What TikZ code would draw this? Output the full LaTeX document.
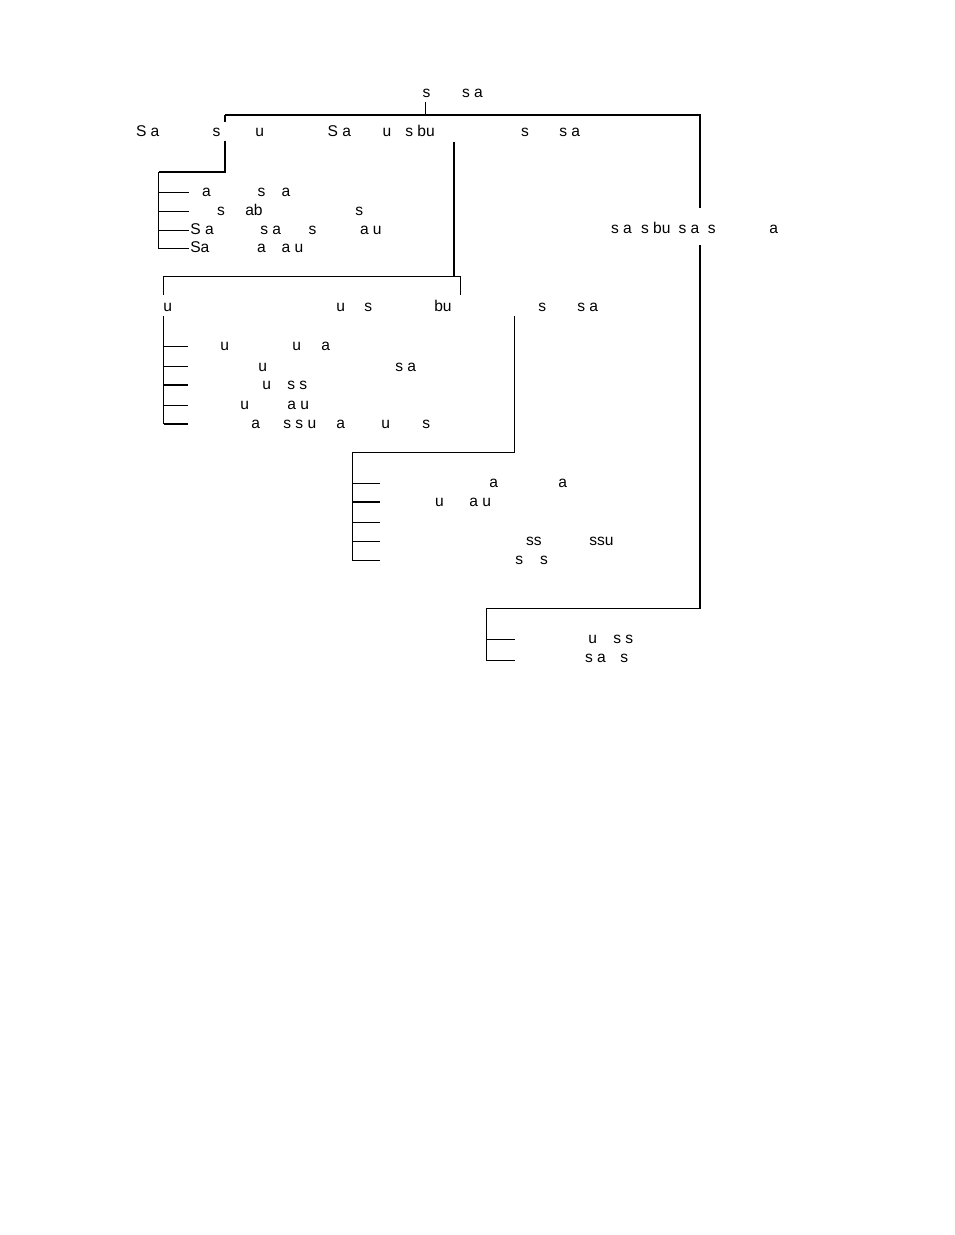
\documentclass[tikz,border=0pt]{standalone}
\usepackage{fontspec}
\setmainfont{Liberation Sans}
\begin{document}
\begin{tikzpicture}[x=0.6417pt,y=-0.6417pt,
  lbl/.style={anchor=base west,inner sep=0pt,outer sep=0pt,font=\fontsize{10pt}{12pt}\selectfont,xshift=-0.45pt},
  tl/.style={line width=0.6417pt},
  tk/.style={line width=1.2834pt}]
\useasboundingbox (0,0) rectangle (954,1235);
% ---------- connector points ----------
\coordinate (tickA) at (425.5,102);
\coordinate (tickB) at (425.5,115);
\coordinate (barL) at (225,115);
\coordinate (barR) at (700,115);
\coordinate (rA) at (700,208);
\coordinate (rB) at (700,245);
\coordinate (rC) at (700,608.5);
\coordinate (g4T) at (486.5,608.5);
\coordinate (g4B) at (486.5,660.5);
\coordinate (g4b1) at (486.5,639.5);
\coordinate (g4e1) at (515,639.5);
\coordinate (g4e2) at (515,660.5);
\coordinate (lA) at (225,121.5);
\coordinate (lB) at (225,140.5);
\coordinate (lC) at (225,172);
\coordinate (g1T) at (158.5,172);
\coordinate (g1B) at (158.5,248.5);
\coordinate (g1b1) at (158.5,192.5);
\coordinate (g1b2) at (158.5,211.5);
\coordinate (g1b3) at (158.5,230.5);
\coordinate (g1e1) at (188.5,192.5);
\coordinate (g1e2) at (188.5,211.5);
\coordinate (g1e3) at (188.5,230.5);
\coordinate (g1e4) at (188.5,248.5);
\coordinate (mA) at (454,141.7);
\coordinate (mB) at (454,276.5);
\coordinate (g2L) at (163.5,276.5);
\coordinate (g2R) at (460.5,276.5);
\coordinate (g2Ld) at (163.5,295);
\coordinate (g2Rd) at (460.5,295);
\coordinate (g2T) at (163.5,316);
\coordinate (g2B) at (163.5,424);
\coordinate (g2b1) at (163.5,346.5);
\coordinate (g2b2) at (163.5,366.5);
\coordinate (g2b3) at (163.5,385);
\coordinate (g2b4) at (163.5,405.5);
\coordinate (g2e1) at (188,346.5);
\coordinate (g2e2) at (188,366.5);
\coordinate (g2e3) at (188,385);
\coordinate (g2e4) at (188,405.5);
\coordinate (g2e5) at (188,424);
\coordinate (nA) at (514.5,316);
\coordinate (nB) at (514.5,452.5);
\coordinate (g3T) at (352.5,452.5);
\coordinate (g3B) at (352.5,560.5);
\coordinate (g3b1) at (352.5,483.5);
\coordinate (g3b2) at (352.5,502);
\coordinate (g3b3) at (352.5,522.5);
\coordinate (g3b4) at (352.5,541.5);
\coordinate (g3e1) at (380,483.5);
\coordinate (g3e2) at (380,502);
\coordinate (g3e3) at (380,522.5);
\coordinate (g3e4) at (380,541.5);
\coordinate (g3e5) at (380,560.5);
% ---------- connectors ----------
\draw[tl] (tickA) -- (tickB);
\draw[tk] (barL) -- (barR) -- (rA);
\draw[tk] (rB) -- (rC);
\draw[tl] (rC) -- (g4T) -- (g4B) -- (g4e2);
\draw[tl] (g4b1) -- (g4e1);
\draw[tk] (barL) -- (lA);
\draw[tk] (lB) -- (lC) -- (g1T);
\draw[tl] (g1T) -- (g1B) -- (g1e4);
\draw[tl] (g1b1) -- (g1e1);
\draw[tl] (g1b2) -- (g1e2);
\draw[tl] (g1b3) -- (g1e3);
\draw[tk] (mA) -- (mB);
\draw[tl] (g2Ld) -- (g2L) -- (g2R) -- (g2Rd);
\draw[tl] (g2T) -- (g2B);
\draw[tl] (g2b1) -- (g2e1);
\draw[tl] (g2b2) -- (g2e2);
\draw[tk] (g2b3) -- (g2e3);
\draw[tl] (g2b4) -- (g2e4);
\draw[tk] (g2B) -- (g2e5);
\draw[tl] (nA) -- (nB) -- (g3T) -- (g3B) -- (g3e5);
\draw[tl] (g3b1) -- (g3e1);
\draw[tk] (g3b2) -- (g3e2);
\draw[tl] (g3b3) -- (g3e3);
\draw[tl] (g3b4) -- (g3e4);
% ---------- texts ----------
% top
\node[lbl] (t1) at (423.3,97.5) {s};
\node[lbl] (t2) at (462.7,97.5) {s a};
% header row
\node[lbl] (h1) at (136.7,136.5) {S a};
\node[lbl] (h2) at (213.3,136.5) {s};
\node[lbl] (h3) at (256,136.5) {u};
\node[lbl] (h4) at (328.3,136.5) {S a};
\node[lbl] (h5) at (383.3,136.5) {u};
\node[lbl] (h6) at (406,136.5) {s bu};
\node[lbl] (h7) at (521.7,136.5) {s};
\node[lbl] (h8) at (560,136.5) {s a};
% group 1
\node[lbl] (a1) at (202.7,196) {a};
\node[lbl] (a2) at (258.3,196) {s};
\node[lbl] (a3) at (282.3,196) {a};
\node[lbl] (b1) at (217.7,215) {s};
\node[lbl] (b2) at (246,215) {ab};
\node[lbl] (b3) at (356,215) {s};
\node[lbl] (c1) at (191,234.5) {S a};
\node[lbl] (c2) at (261,234.5) {s a};
\node[lbl] (c3) at (309.3,234.5) {s};
\node[lbl] (c4) at (360.7,234.5) {a u};
\node[lbl] (d1) at (191,252.5) {Sa};
\node[lbl] (d2) at (257.7,252.5) {a};
\node[lbl] (d3) at (282.3,252.5) {a u};
% right row
\node[lbl] (r1) at (611.7,233) {s a};
\node[lbl] (r2) at (641.7,233) {s bu};
\node[lbl] (r3) at (679.3,233) {s a};
\node[lbl] (r3b) at (708.5,233) {s};
\node[lbl] (r4) at (770,233) {a};
% group 2 header
\node[lbl] (k1) at (164,311.5) {u};
\node[lbl] (k2) at (337,311.5) {u};
\node[lbl] (k3) at (365,311.5) {s};
\node[lbl] (k4) at (435,311.5) {bu};
\node[lbl] (k5) at (539,311.5) {s};
\node[lbl] (k6) at (578,311.5) {s a};
% group 2 rows
\node[lbl] (e1) at (221,350.5) {u};
\node[lbl] (e2) at (293,350.5) {u};
\node[lbl] (e3) at (322,350.5) {a};
\node[lbl] (f1) at (259,371) {u};
\node[lbl] (f2) at (396,371) {s a};
\node[lbl] (g1) at (263,389) {u};
\node[lbl] (g2) at (288,389) {s s};
\node[lbl] (i1) at (241,409.5) {u};
\node[lbl] (i2) at (288,409.5) {a u};
\node[lbl] (j1) at (252,428) {a};
\node[lbl] (j2) at (284,428) {s s u};
\node[lbl] (j3) at (337,428) {a};
\node[lbl] (j4) at (382,428) {u};
\node[lbl] (j5) at (423,428) {s};
% group 3 rows
\node[lbl] (m1) at (490,487) {a};
\node[lbl] (m2) at (559,487) {a};
\node[lbl] (o1) at (435.7,506.5) {u};
\node[lbl] (o2) at (470,506.5) {a u};
\node[lbl] (p1) at (526.7,545) {ss};
\node[lbl] (p2) at (590,545) {ssu};
\node[lbl] (q1) at (516,564.5) {s};
\node[lbl] (q2) at (540.7,564.5) {s};
% group 4 rows
\node[lbl] (v1) at (589,643) {u};
\node[lbl] (v2) at (614,643) {s s};
\node[lbl] (w1) at (585.7,662) {s a};
\node[lbl] (w2) at (621,662) {s};
\end{tikzpicture}
\end{document}
